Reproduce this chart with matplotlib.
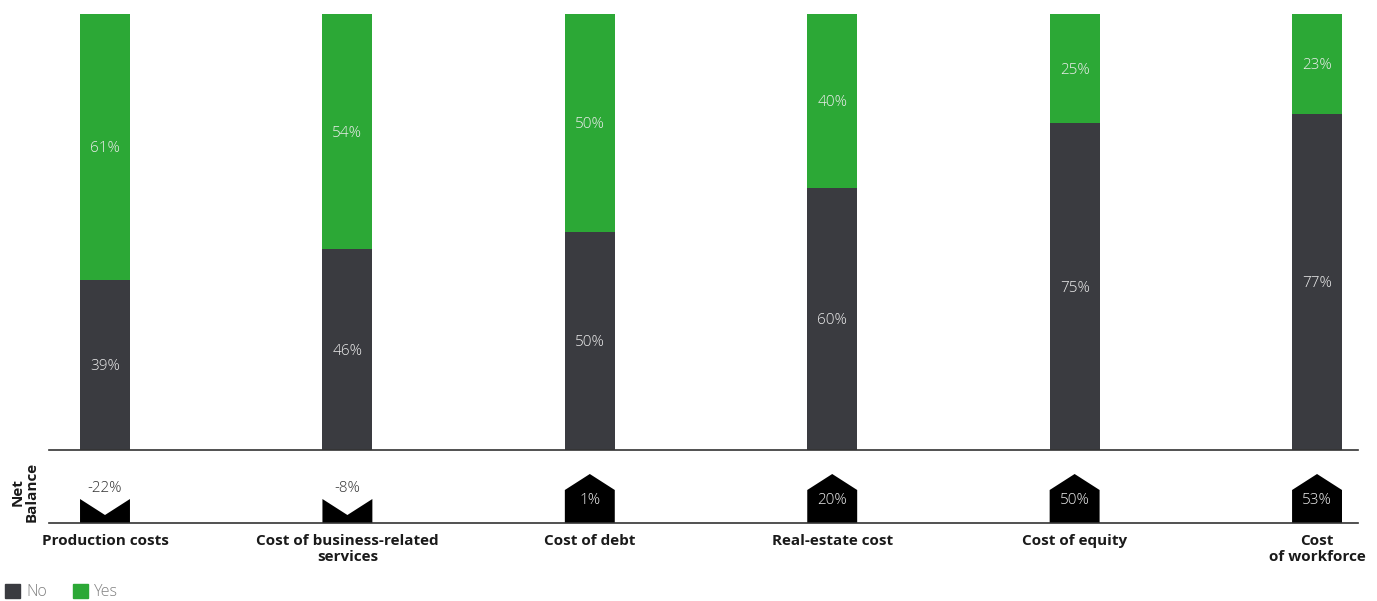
import matplotlib
matplotlib.use("Agg")
import matplotlib.pyplot as plt
from matplotlib.patches import Polygon, Patch
import numpy as np

plt.rcParams['font.family'] = ['Open Sans', 'DejaVu Sans']

categories = ["Production costs", "Cost of business-related\nservices", "Cost of debt",
              "Real-estate cost", "Cost of equity", "Cost\nof workforce"]
no_vals = [39, 46, 50, 60, 75, 77]
yes_vals = [61, 54, 50, 40, 25, 23]
net_balance = [-22, -8, 1, 20, 50, 53]

GREEN = "#2ca836"
DARK = "#3a3b40"
LABEL = "#ececec"

fig = plt.figure(figsize=(13.77, 6.01), dpi=100)
ax = fig.add_axes([49/1377, 1-450/601, (1358-49)/1377, (450-14)/601])
ax2 = fig.add_axes([49/1377, 1-523/601, (1358-49)/1377, (523-455)/601])

x = np.arange(len(categories))
w = 0.206
xlim = (-0.231, 5.169)

ax.bar(x, no_vals, width=w, color=DARK, label="No")
ax.bar(x, yes_vals, width=w, bottom=no_vals, color=GREEN, label="Yes")
for xi, n, y in zip(x, no_vals, yes_vals):
    ax.text(xi, n/2 - 0.4, f"{n}%", ha='center', va='center', color=LABEL,
            fontsize=11, fontweight='light')
    ax.text(xi, n + y/2 - 0.4, f"{y}%", ha='center', va='center', color=LABEL,
            fontsize=11, fontweight='light')
ax.set_xlim(*xlim)
ax.set_ylim(0, 100)
for s in ['top', 'right', 'left']:
    ax.spines[s].set_visible(False)
ax.spines['bottom'].set_color('#333333')
ax.spines['bottom'].set_linewidth(1.2)
ax.set_xticks([])
ax.set_yticks([])

# Net balance symbols: notch for negative, arrow-house for positive
ax2.set_xlim(*xlim)
ax2.set_ylim(0, 68)
hw = w/2
for xi, nb in zip(x, net_balance):
    if np.sign(nb) < 0:
        pts = [(xi-hw, 0), (xi+hw, 0), (xi+hw, 24), (xi, 8), (xi-hw, 24)]
        ax2.add_patch(Polygon(pts, closed=True, color='black', lw=0))
        ax2.text(xi, 35, f"{nb}%", ha='center', va='center', color='#333333',
                 fontsize=11, fontweight='light')
    else:
        pts = [(xi-hw, 0), (xi+hw, 0), (xi+hw, 33), (xi, 49), (xi-hw, 33)]
        ax2.add_patch(Polygon(pts, closed=True, color='black', lw=0))
        ax2.text(xi, 23, f"{nb}%", ha='center', va='center', color=LABEL,
                 fontsize=11, fontweight='light')
for s in ['top', 'right', 'left']:
    ax2.spines[s].set_visible(False)
ax2.spines['bottom'].set_color('#333333')
ax2.spines['bottom'].set_linewidth(1.2)
ax2.set_yticks([])
ax2.set_xticks(x)
ax2.set_xticklabels(categories, fontweight='bold', fontsize=11, color='#1a1a1a',
                    linespacing=1.2)
ax2.tick_params(axis='x', length=0, pad=8)

fig.text(25/1377, 1-492/601, "Net\nBalance", rotation=90, ha='center', va='center',
         fontweight='bold', fontsize=11, color='#1a1a1a', linespacing=1.0)

handles = [Patch(color=DARK, label="No"), Patch(color=GREEN, label="Yes")]
leg = fig.legend(handles=handles, loc='center left', bbox_to_anchor=(5/1377, 1-592/601),
                 ncol=2, frameon=False, handlelength=0.95, handleheight=0.95,
                 handletextpad=0.4, columnspacing=1.6, borderaxespad=0, borderpad=0.0,
                 prop={'size': 11.5, 'weight': 'light'})
for t in leg.get_texts():
    t.set_color('#808080')

fig.savefig("out.png", dpi=100)
